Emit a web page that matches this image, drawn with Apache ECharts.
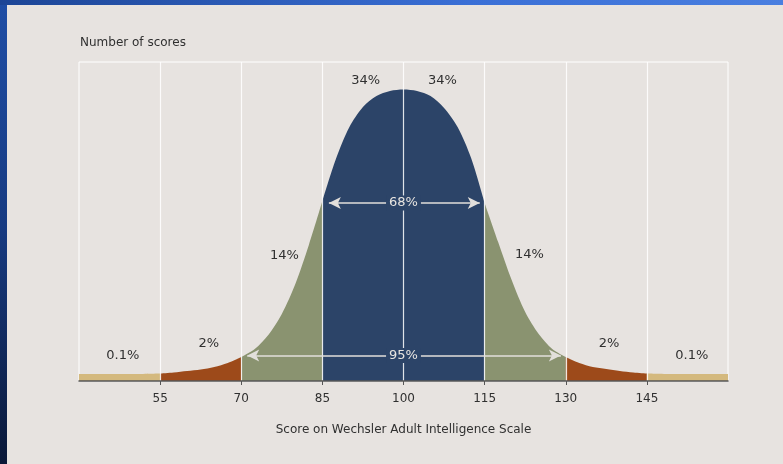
<!DOCTYPE html>
<html>
<head>
<meta charset="utf-8">
<script src="https://cdn.jsdelivr.net/npm/echarts@6/dist/echarts.min.js"></script>
<style>
  html, body { margin: 0; padding: 0; width: 783px; height: 464px; overflow: hidden; }
  body { background: linear-gradient(to bottom, #1f4ea6 0%, #173a80 50%, #0a1838 100%); position: relative; }
  #topband { position: absolute; left: 0; top: 0; width: 783px; height: 5px; background: linear-gradient(to right, #1c4596, #3a6fd6 60%, #4a7fe0); }
  #chart { position: absolute; left: 7px; top: 5px; width: 776px; height: 459px; background: #e7e3e0; }
</style>
</head>
<body>
<div id="topband"></div>
<div id="chart"></div>
<script>
// Scores (x) and curve heights (relative number of scores, arbitrary units)
const scores  = [40, 45, 50, 55, 57.5, 60, 62.5, 65, 67.5, 70, 72.5, 75, 77.5, 80, 82.5, 85, 87.5, 90, 92.5, 95, 97.5, 100,
                 102.5, 105, 107.5, 110, 112.5, 115, 117.5, 120, 122.5, 125, 127.5, 130, 132.5, 135, 137.5, 140, 142.5, 145, 150, 155, 160];
const heights = [7, 7, 7, 7.5, 8.5, 10, 11.5, 14, 18, 24, 32, 46, 67, 97, 136, 180, 222, 254, 274, 285, 290, 291.5,
                 290, 285, 273, 254, 223, 178, 139, 101, 69, 47, 32, 24, 18, 14, 12, 10, 8.5, 7.5, 7, 7, 7];

// Bands of the distribution
const bandFrom   = [40, 55, 70, 85, 115, 130, 145];
const bandTo     = [55, 70, 85, 115, 130, 145, 160];
const bandColors = ['#d4b97e', '#9d4a1a', '#8a9370', '#2c4468', '#8a9370', '#9d4a1a', '#d4b97e'];

// Tick labels
const tickValues = [55, 70, 85, 100, 115, 130, 145];

// Percentage labels
const pctText = ['0.1%', '2%', '14%', '34%', '34%', '14%', '2%', '0.1%'];
const pctX    = [48.1, 64.0, 78.0, 93.0, 107.2, 123.3, 138.0, 153.3];
const pctY    = [25, 37, 125, 300, 300, 126, 37, 25];

// Range arrows
const arrowText = ['68%', '95%'];
const arrowFrom = [86.2, 71.1];
const arrowTo   = [114.1, 129.1];
const arrowY    = [178, 25.5];
const arrowMid  = [100, 100];

const series = [];
for (let b = 0; b < bandFrom.length; b++) {
  const pts = [];
  for (let i = 0; i < scores.length; i++) {
    if (scores[i] >= bandFrom[b] && scores[i] <= bandTo[b]) pts.push([scores[i], heights[i]]);
  }
  series.push({
    type: 'line',
    data: pts,
    smooth: 0.3,
    showSymbol: false,
    symbol: 'none',
    lineStyle: { width: 0 },
    areaStyle: { color: bandColors[b], opacity: 1 },
    silent: true,
    z: 2
  });
}

// Arrows
series.push({
  type: 'line',
  data: [],
  z: 10,
  silent: true,
  markLine: {
    silent: true,
    symbol: ['arrow', 'arrow'],
    symbolSize: [9, 12],
    lineStyle: { color: '#e2dfdb', width: 1.6, type: 'solid' },
    label: { show: false },
    data: arrowFrom.map((f, i) => [{ coord: [f, arrowY[i]] }, { coord: [arrowTo[i], arrowY[i]] }])
  }
});

// Arrow texts
series.push({
  type: 'scatter',
  z: 11,
  silent: true,
  symbolSize: 0,
  itemStyle: { opacity: 1 },
  data: arrowText.map((t, i) => ({ name: t, value: [arrowMid[i], arrowY[i]] })),
  label: {
    show: true,
    position: 'inside',
    formatter: '{b}',
    fontFamily: 'DejaVu Sans',
    fontSize: 13,
    color: '#e8e5e1',
    backgroundColor: '#2c4468',
    padding: [1, 3]
  }
});

// Percent labels
series.push({
  type: 'scatter',
  z: 11,
  silent: true,
  symbolSize: 0,
  itemStyle: { opacity: 1 },
  data: pctText.map((t, i) => ({ name: t, value: [pctX[i], pctY[i]] })),
  label: {
    show: true,
    position: 'inside',
    formatter: '{b}',
    fontFamily: 'DejaVu Sans',
    fontSize: 13,
    color: '#303030'
  }
});

const chart = echarts.init(document.getElementById('chart'), null, { renderer: 'canvas' });
chart.setOption({
  animation: false,
  backgroundColor: '#e7e3e0',
  title: {
    text: 'Number of scores',
    left: 73,
    top: 32,
    padding: 0,
    textStyle: { fontFamily: 'DejaVu Sans', fontSize: 12, fontWeight: 'normal', color: '#303030' }
  },
  grid: {
    left: 72, right: 55, top: 57, bottom: 83,
    show: true, borderColor: '#ffffff', borderWidth: 1, backgroundColor: 'transparent'
  },
  xAxis: {
    type: 'value',
    min: 40, max: 160, interval: 15,
    z: 5,
    name: 'Score on Wechsler Adult Intelligence Scale',
    nameLocation: 'middle',
    nameGap: 43,
    nameTextStyle: { fontFamily: 'DejaVu Sans', fontSize: 12, color: '#303030' },
    axisLine: { show: true, lineStyle: { color: '#555555', width: 1.5 } },
    axisTick: { show: true, length: 4, lineStyle: { color: '#555555' }, customValues: tickValues },
    axisLabel: { fontFamily: 'DejaVu Sans', fontSize: 12, color: '#303030', margin: 12, customValues: tickValues },
    splitLine: { show: true, lineStyle: { color: 'rgba(255,255,255,0.85)', width: 1.2 } }
  },
  yAxis: {
    type: 'value',
    min: 0, max: 319,
    show: false,
    splitLine: { show: false }
  },
  series: series
});
</script>
</body>
</html>
